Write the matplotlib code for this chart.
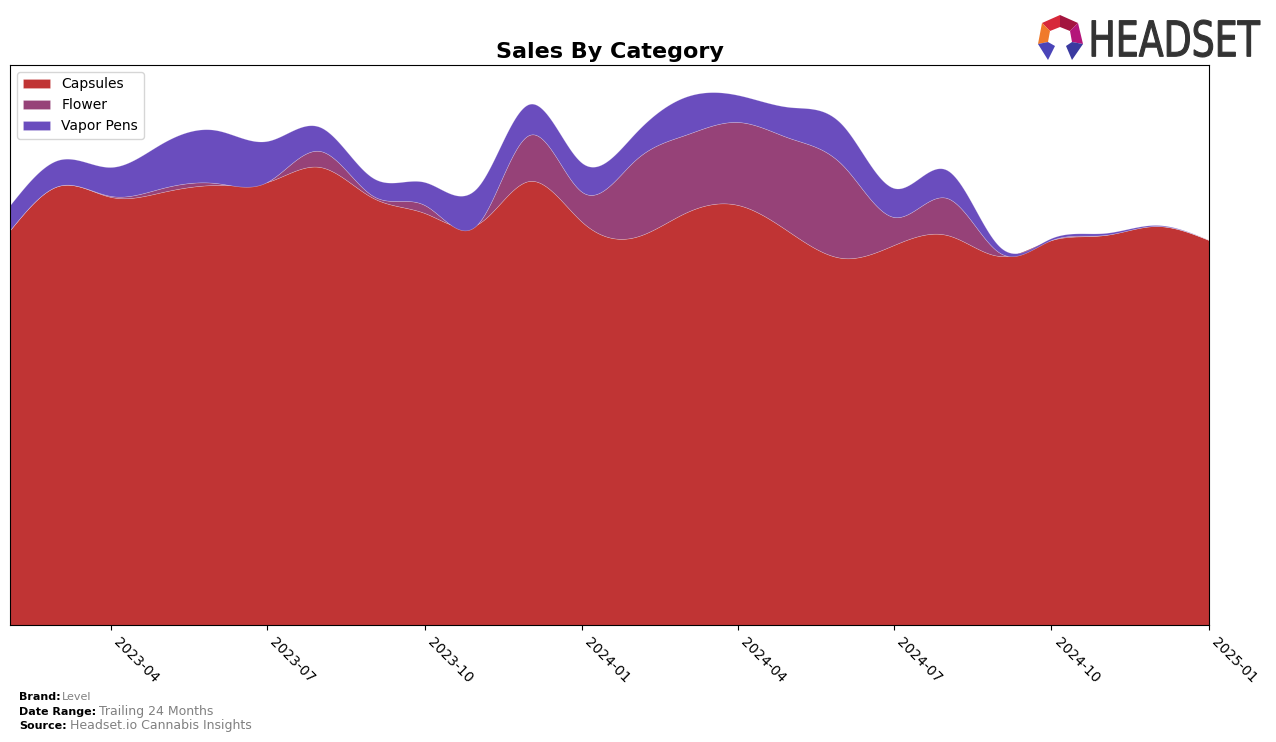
import numpy as np
import pandas as pd
import matplotlib
matplotlib.use("Agg")
import matplotlib.pyplot as plt
import matplotlib.dates as mdates
from matplotlib.patches import Polygon, PathPatch
from matplotlib.textpath import TextPath
from matplotlib.font_manager import FontProperties
from matplotlib.transforms import Affine2D

months = pd.date_range("2023-02-01", "2025-01-01", freq="MS")
categories = ["Capsules", "Flower", "Vapor Pens"]
capsules = [395, 439, 428, 433, 440, 443, 458, 427, 412, 401, 444, 403,
            388, 412, 420, 393, 367, 380, 390, 369, 385, 390, 399, 385]
flower = [0, 0, 1, 4, 2, 0, 16, 2, 8, 0, 46, 30,
          77, 78, 83, 94, 93, 28, 37, 3, 0, 0, 0, 0]
vapor_pens = [25, 26, 29, 45, 53, 41, 24, 18, 23, 37, 31, 29,
              27, 38, 27, 31, 40, 29, 28, 6, 2, 2, 1, 0]
colors = ["#c03434", "#964278", "#6a4dbe"]


def spline(x, y, xs):
    # natural cubic spline, just for drawing smooth edges
    x = np.asarray(x, float)
    y = np.asarray(y, float)
    n = len(x)
    h = np.diff(x)
    A = np.zeros((n, n))
    b = np.zeros(n)
    A[0, 0] = A[-1, -1] = 1
    for i in range(1, n - 1):
        A[i, i - 1] = h[i - 1]
        A[i, i] = 2 * (h[i - 1] + h[i])
        A[i, i + 1] = h[i]
        b[i] = 6 * ((y[i + 1] - y[i]) / h[i] - (y[i] - y[i - 1]) / h[i - 1])
    m = np.linalg.solve(A, b)
    idx = np.clip(np.searchsorted(x, xs) - 1, 0, n - 2)
    t = xs - x[idx]
    hi = h[idx]
    a = (m[idx + 1] - m[idx]) / (6 * hi)
    bb = m[idx] / 2
    c = (y[idx + 1] - y[idx]) / hi - hi * (2 * m[idx] + m[idx + 1]) / 6
    return y[idx] + c * t + bb * t ** 2 + a * t ** 3


xnum = mdates.date2num(months)
xs = np.linspace(xnum[0], xnum[-1], 600)
series = [spline(xnum, s, xs) for s in (capsules, flower, vapor_pens)]

fig = plt.figure(figsize=(12.76, 7.42), dpi=100)
ax = fig.add_axes([10 / 1276, 1 - 625 / 742, 1199 / 1276, 560 / 742])
ax.stackplot(mdates.num2date(xs), *series, labels=categories, colors=colors,
             linewidth=0.4, edgecolor=(1, 1, 1, 0.3))
ax.set_xlim(months[0], months[-1])
ax.set_ylim(0, 560)
ax.set_yticks([])
ax.xaxis.set_major_locator(mdates.MonthLocator(bymonth=[1, 4, 7, 10]))
ax.xaxis.set_major_formatter(mdates.DateFormatter("%Y-%m"))
plt.setp(ax.get_xticklabels(), rotation=-45, ha="left")
ax.set_title("Sales By Category", fontsize=16, fontweight="bold", pad=5)
ax.legend(loc="upper left", fontsize=10)

# footer
fig.text(19 / 1276, 1 - 697 / 742, "Brand:", fontsize=8, fontweight="bold", va="center")
fig.text(62 / 1276, 1 - 697 / 742, "Level", fontsize=8, color="gray", va="center")
fig.text(19 / 1276, 1 - 712 / 742, "Date Range:", fontsize=8, fontweight="bold", va="center")
fig.text(99 / 1276, 1 - 712 / 742, "Trailing 24 Months", fontsize=9, color="gray", va="center")
fig.text(19 / 1276, 1 - 726 / 742, "Source:", fontsize=8, fontweight="bold", va="center")
fig.text(70 / 1276, 1 - 726 / 742, "Headset.io Cannabis Insights", fontsize=9, color="gray", va="center")

# logo (pixel coords, y from top)
px = Affine2D().scale(1, -1).translate(0, 742)
facets = [
    ([(1060, 15), (1042, 23), (1050, 31), (1060, 27)], "#d7283a"),
    ([(1060, 15), (1078, 23), (1070, 31), (1060, 27)], "#a3153f"),
    ([(1042, 23), (1038, 44), (1048, 42), (1050, 31)], "#f07a2a"),
    ([(1078, 23), (1083, 44), (1072, 42), (1070, 31)], "#b4167a"),
    ([(1038, 44), (1048, 60), (1055, 46), (1048, 42)], "#4a44b8"),
    ([(1083, 44), (1072, 60), (1066, 46), (1072, 42)], "#3a3aa0"),
]
for pts, col in facets:
    fig.patches.append(Polygon(pts, closed=True, facecolor=col, edgecolor="none",
                               transform=px, figure=fig))
tp = TextPath((0, 0), "HEADSET", size=10, prop=FontProperties(family="DejaVu Sans"))
bb = tp.get_extents()
tr = (Affine2D().translate(-bb.x0, -bb.y0)
      .scale(168 / bb.width, 37 / bb.height)
      .translate(1092, 742 - 57))
fig.patches.append(PathPatch(tr.transform_path(tp), facecolor="#333333",
                             edgecolor=(0.2, 0.2, 0.2), linewidth=0.8,
                             transform=None, figure=fig))

fig.savefig("out.png", dpi=100)
